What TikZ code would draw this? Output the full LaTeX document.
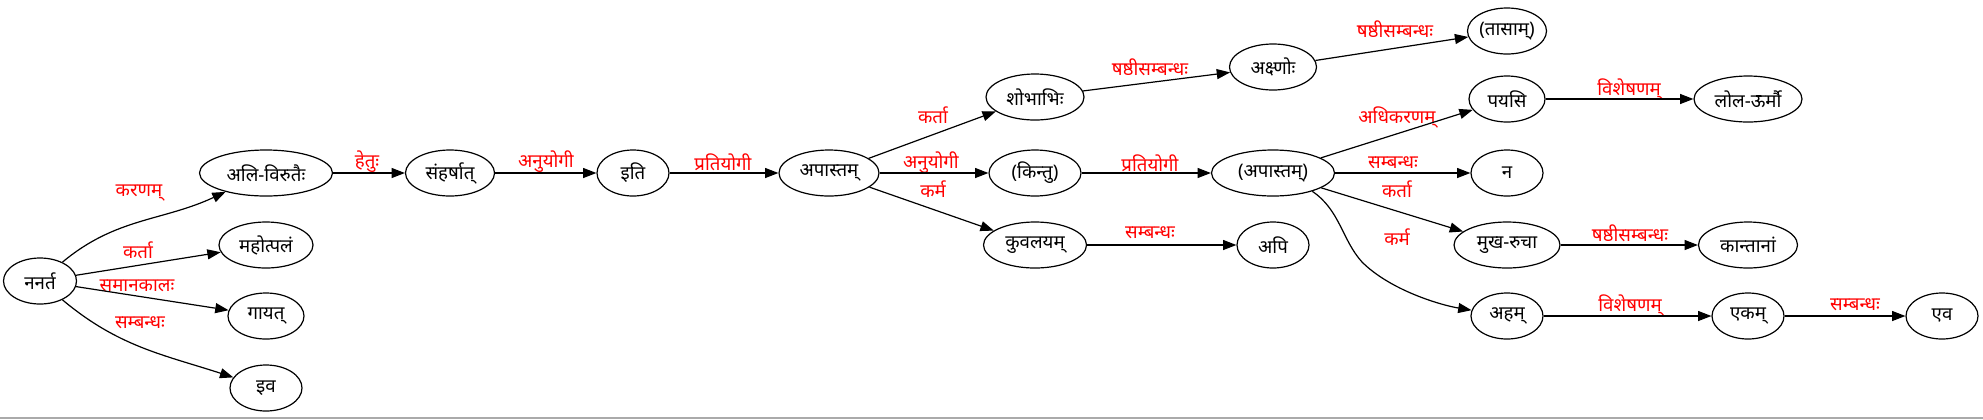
\documentclass[tikz,border=0pt]{standalone}
\usepackage{fontspec}
\newfontfamily\dev[Script=Devanagari]{Noto Sans}
\usetikzlibrary{shapes.geometric,arrows.meta}
\definecolor{framegray}{RGB}{170,170,170}
\definecolor{lblred}{RGB}{255,0,0}
\tikzset{
  gv/.style={draw, ellipse, line width=0.9pt, inner sep=0pt, minimum height=34.5pt,
    minimum width={#1*0.75pt}, font=\dev\fontsize{14}{16}\selectfont},
  lbl/.style={inner sep=0pt, text=lblred, font=\dev\fontsize{14}{16}\selectfont},
  e/.style={line width=0.9pt, -{Triangle[length=10pt,width=7.5pt]}}
}
\begin{document}
\begin{tikzpicture}[x=0.75pt,y=-0.75pt]
\useasboundingbox (0,0) rectangle (1983,419);
\draw[framegray, line width=1.2pt] (0,417.8) -- (1983,417.8);
% nodes
\node[gv=73] (n0) at (40,281) {ननर्त};
\node[gv=133] (a1) at (266,173) {अलि-विरुतैः};
\node[gv=94] (a2) at (266,245) {महोत्पलं};
\node[gv=76] (a3) at (266,316) {गायत्};
\node[gv=72] (a4) at (266,388) {इव};
\node[gv=89] (b) at (450,173) {संहर्षात्};
\node[gv=72] (c) at (633,173) {इति};
\node[gv=100] (d) at (829,173) {अपास्तम्};
\node[gv=98] (e1) at (1035,97) {शोभाभिः};
\node[gv=92] (e2) at (1035,173) {(किन्तु)};
\node[gv=103] (e3) at (1035,245) {कुवलयम्};
\node[gv=87] (f1) at (1273,67) {अक्ष्णोः};
\node[gv=123] (f2) at (1273,173) {(अपास्तम्)};
\node[gv=72] (f3) at (1273,245) {अपि};
\node[gv=79] (g1) at (1507,31) {(तासाम्)};
\node[gv=76] (g2) at (1507,99) {पयसि};
\node[gv=72] (g3) at (1507,173) {न};
\node[gv=106] (g4) at (1507,245) {मुख-रुचा};
\node[gv=72] (g5) at (1507,316) {अहम्};
\node[gv=108] (h1) at (1748,99) {लोल-ऊर्मौ};
\node[gv=99] (h2) at (1748,245) {कान्तानां};
\node[gv=72] (h3) at (1748,316) {एकम्};
\node[gv=72] (i1) at (1942,316) {एव};
% edge labels
\node[lbl] (l1) at (139,193) {करणम्};
\node[lbl] (l2) at (138,250) {कर्ता};
\node[lbl] (l3) at (137,286) {समानकालः};
\node[lbl] (l4) at (140,323) {सम्बन्धः};
\node[lbl] (l5) at (367,162) {हेतुः};
\node[lbl] (l6) at (546,162) {अनुयोगी};
\node[lbl] (l7) at (723,162) {प्रतियोगी};
\node[lbl] (l8) at (933,115) {कर्ता};
\node[lbl] (l9) at (931,163) {अनुयोगी};
\node[lbl] (l10) at (933,189) {कर्म};
\node[lbl] (l11) at (1150,67) {षष्ठीसम्बन्धः};
\node[lbl] (l12) at (1150,163) {प्रतियोगी};
\node[lbl] (l13) at (1150,233) {सम्बन्धः};
\node[lbl] (l14) at (1395,29) {षष्ठीसम्बन्धः};
\node[lbl] (l15) at (1397,117) {अधिकरणम्};
\node[lbl] (l16) at (1393,163) {सम्बन्धः};
\node[lbl] (l17) at (1397,189) {कर्ता};
\node[lbl] (l18) at (1397,237) {कर्म};
\node[lbl] (l19) at (1629,89) {विशेषणम्};
\node[lbl] (l20) at (1630,233) {षष्ठीसम्बन्धः};
\node[lbl] (l21) at (1630,305) {विशेषणम्};
\node[lbl] (l22) at (1855,305) {सम्बन्धः};
% edges
\draw[e] (n0) to[out=40,in=205] (a1);
\draw[e] (n0) -- (a2);
\draw[e] (n0) -- (a3);
\draw[e] (n0) to[out=-40,in=162] (a4);
\draw[e] (a1) -- (b);
\draw[e] (b) -- (c);
\draw[e] (c) -- (d);
\draw[e] (d) -- (e1);
\draw[e] (d) -- (e2);
\draw[e] (d) -- (e3);
\draw[e] (e1) -- (f1);
\draw[e] (e2) -- (f2);
\draw[e] (e3) -- (f3);
\draw[e] (f1) -- (g1);
\draw[e] (f2) -- (g2);
\draw[e] (f2) -- (g3);
\draw[e] (f2) -- (g4);
\draw[e] (f2.-25) .. controls (1340,210) and (1342,240) .. (1362,262) .. controls (1390,290) and (1440,305) .. (g5);
\draw[e] (g2) -- (h1);
\draw[e] (g4) -- (h2);
\draw[e] (g5) -- (h3);
\draw[e] (h3) -- (i1);
\end{tikzpicture}
\end{document}
